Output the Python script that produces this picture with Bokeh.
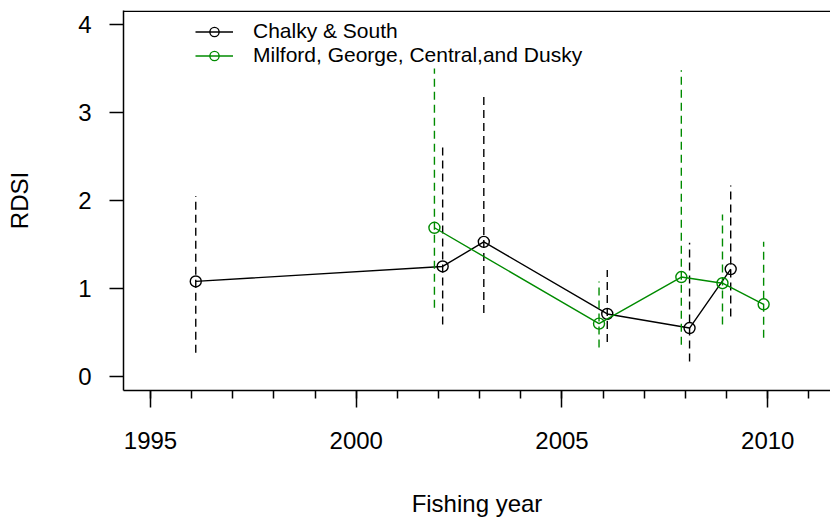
from bokeh.plotting import figure
from bokeh.models import (FixedTicker, Range1d, ColumnDataSource, Span,
                          Legend, LegendItem)
from bokeh.transform import dodge
from bokeh.embed import file_html
from bokeh.resources import INLINE

# ---- data ----
years_cs = [1996, 2002, 2003, 2006, 2008, 2009]
rdsi_cs = [1.08, 1.25, 1.53, 0.71, 0.55, 1.22]
lo_cs = [0.27, 0.59, 0.72, 0.39, 0.17, 0.68]
hi_cs = [2.05, 2.66, 3.22, 1.21, 1.52, 2.17]

years_m = [2002, 2006, 2008, 2009, 2010]
rdsi_m = [1.69, 0.60, 1.13, 1.06, 0.82]
lo_m = [0.78, 0.33, 0.36, 0.59, 0.44]
hi_m = [3.50, 1.08, 3.48, 1.84, 1.53]

x_major = [1995, 2000, 2005, 2010]
x_minor = [1995, 1996, 1997, 1998, 1999, 2000, 2001, 2002, 2003, 2004, 2005,
           2006, 2007, 2008, 2009, 2010, 2011]
y_ticks = [0, 1, 2, 3, 4]

label_cs = "Chalky & South"
label_m = "Milford, George, Central,and Dusky"

FONT = "Liberation Sans"
GREEN = "#008B00"
X0, X1 = 1994.344, 2011.525
Y0, Y1 = -0.16, 4.16

p = figure(width=830, height=519,
           x_range=Range1d(X0, X1),
           y_range=Range1d(Y0, Y1),
           output_backend="svg", toolbar_location=None,
           min_border_left=123, min_border_right=0,
           min_border_top=10, min_border_bottom=128)
p.outline_line_color = None
p.xgrid.visible = False
p.ygrid.visible = False
p.background_fill_color = "white"
p.border_fill_color = "white"

# x axis
xa = p.xaxis[0]
xa.ticker = FixedTicker(ticks=x_major, minor_ticks=x_minor)
xa.axis_label = "Fishing year"
xa.major_tick_out = 17
xa.major_tick_in = 0
xa.minor_tick_out = 8
xa.minor_tick_in = 0
xa.major_label_standoff = 24
xa.axis_label_standoff = 38

# y axis
ya = p.yaxis[0]
ya.ticker = FixedTicker(ticks=y_ticks)
ya.axis_label = "RDSI"
ya.major_tick_out = 14
ya.major_tick_in = 0
ya.minor_tick_out = 0
ya.minor_tick_in = 0
ya.major_label_standoff = 18
ya.axis_label_standoff = 42

for ax in (xa, ya):
    ax.axis_line_width = 1.5
    ax.axis_line_color = "black"
    ax.major_tick_line_width = 1.5
    ax.major_tick_line_color = "black"
    ax.minor_tick_line_width = 1.5
    ax.minor_tick_line_color = "black"
    ax.major_label_text_font = FONT
    ax.major_label_text_font_size = "24px"
    ax.major_label_text_color = "black"
    ax.axis_label_text_font = FONT
    ax.axis_label_text_font_size = "24px"
    ax.axis_label_text_font_style = "normal"
    ax.axis_label_text_color = "black"

# top edge of the box (just inside the frame so it is not clipped)
p.add_layout(Span(location=Y1 - 0.009, dimension="width", line_color="black",
                  line_width=1.5, level="overlay"))

src_cs = ColumnDataSource(dict(year=years_cs, rdsi=rdsi_cs, lo=lo_cs, hi=hi_cs))
src_m = ColumnDataSource(dict(year=years_m, rdsi=rdsi_m, lo=lo_m, hi=hi_m))

for src, col, off in ((src_cs, "black", 0.1), (src_m, GREEN, -0.1)):
    xd = dodge("year", off, range=p.x_range)
    p.segment(x0=xd, y0="lo", x1=xd, y1="hi", source=src,
              line_color=col, line_width=1.4, line_dash="8 5")
    p.line(x=xd, y="rdsi", source=src, line_color=col, line_width=1.4)
    p.scatter(x=xd, y="rdsi", source=src, marker="circle", size=11,
              fill_color=None, line_color=col, line_width=1.4)

# legend-only renderers (NaN data, never drawn in the plot area)
nan = float("nan")
leg_src = ColumnDataSource(dict(x=[nan], y=[nan]))
l1 = p.line(x="x", y="y", source=leg_src, line_color="black", line_width=1.4)
s1 = p.scatter(x="x", y="y", source=leg_src, marker="circle", size=7,
               fill_color=None, line_color="black", line_width=1.4)
l2 = p.line(x="x", y="y", source=leg_src, line_color=GREEN, line_width=1.4)
s2 = p.scatter(x="x", y="y", source=leg_src, marker="circle", size=7,
               fill_color=None, line_color=GREEN, line_width=1.4)

legend = Legend(items=[LegendItem(label=label_cs, renderers=[l1, s1]),
                       LegendItem(label=label_m, renderers=[l2, s2])],
                location=(72, 323), border_line_color=None,
                background_fill_alpha=0, padding=0, margin=0, spacing=0,
                glyph_width=38, glyph_height=23, label_height=23,
                label_standoff=20, label_text_font=FONT,
                label_text_font_size="21px", label_text_color="black")
p.add_layout(legend)

open("out.html", "w").write(file_html(p, INLINE))
